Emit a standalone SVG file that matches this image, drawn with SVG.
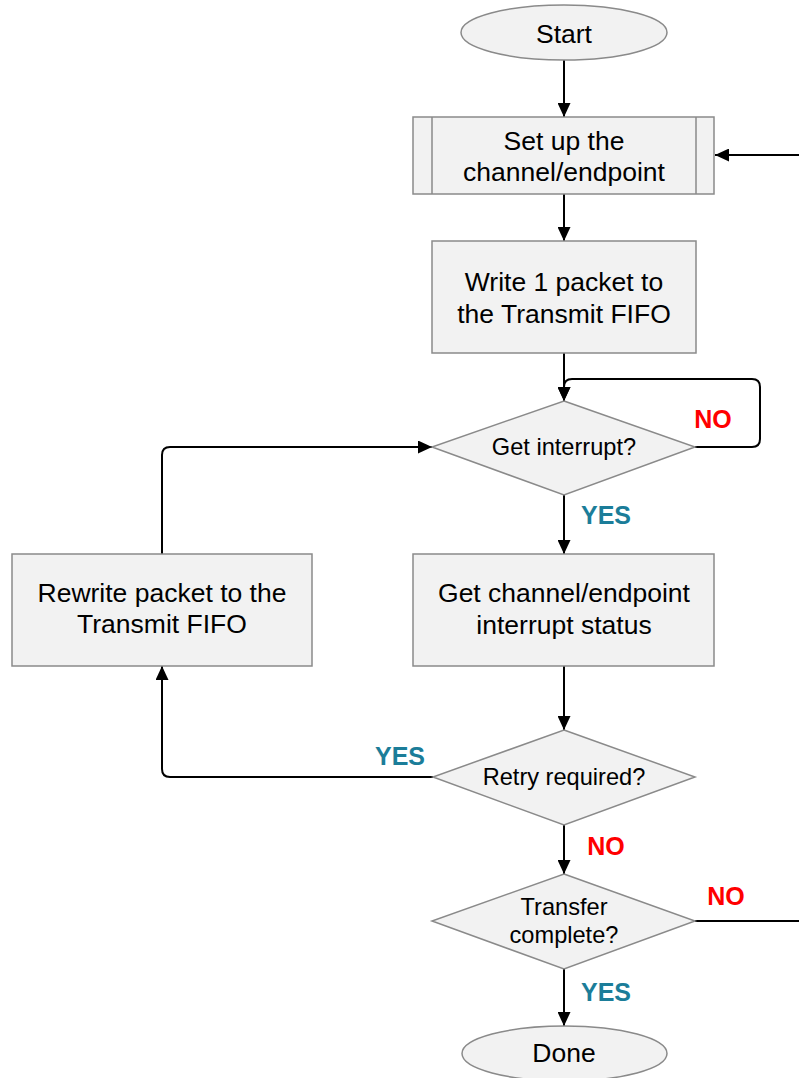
<svg xmlns="http://www.w3.org/2000/svg" width="799" height="1078" viewBox="0 0 799 1078">
<defs>
<marker id="ah" markerUnits="userSpaceOnUse" markerWidth="14" markerHeight="13" refX="14" refY="6.5" orient="auto">
<path d="M0,0 L14,6.5 L0,13 Z" fill="#000"/>
</marker>
<style>
.n{fill:#f2f2f2;stroke:#8a8a8a;stroke-width:1.5}
.t{font-family:"Liberation Sans",Arial,sans-serif;font-size:26.5px;fill:#000;text-anchor:middle}
.d{font-family:"Liberation Sans",Arial,sans-serif;font-size:23.6px;fill:#000;text-anchor:middle}
.c{fill:none;stroke:#000;stroke-width:2;marker-end:url(#ah)}
.l{fill:none;stroke:#000;stroke-width:2}
.yes{font-family:"Liberation Sans",Arial,sans-serif;font-size:25px;font-weight:bold;fill:#1b7d99;text-anchor:middle}
.no{font-family:"Liberation Sans",Arial,sans-serif;font-size:25px;font-weight:bold;fill:#ff0000;text-anchor:middle}
</style>
</defs>
<rect width="799" height="1078" fill="#fff"/>
<g id="connectors">
<path class="c" d="M564,60 V117"/>
<path class="c" d="M564,194 V241"/>
<path class="c" d="M564,353 V401"/>
<path class="c" d="M695,447 H752 Q760,447 760,439 V387 Q760,379 752,379 H572 Q564,379 564,387 V401"/>
<path class="c" d="M564,495 V554"/>
<path class="c" d="M162,554 V455 Q162,447 170,447 H432"/>
<path class="c" d="M564,666 V730"/>
<path class="c" d="M433,777 H170 Q162,777 162,769 V666"/>
<path class="c" d="M564,825 V874"/>
<path class="c" d="M695,921 H812 V155 H715"/>
<path class="c" d="M564,969 V1026"/>
</g>
<g id="start">
<ellipse class="n" cx="564" cy="32.5" rx="103" ry="27.5"/>
<text class="t" x="564" y="43">Start</text>
</g>
<g id="setup">
<rect class="n" x="413" y="117" width="301" height="77"/>
<line class="n" x1="432" y1="117" x2="432" y2="194"/>
<line class="n" x1="696" y1="117" x2="696" y2="194"/>
<text class="t" x="564" y="150">Set up the</text>
<text class="t" x="564" y="181">channel/endpoint</text>
</g>
<g id="write">
<rect class="n" x="432" y="241" width="264" height="112"/>
<text class="t" x="564" y="291">Write 1 packet to</text>
<text class="t" x="564" y="323">the Transmit FIFO</text>
</g>
<g id="getint">
<polygon class="n" points="564,401 695,447 564,495 432,447"/>
<text class="d" x="564" y="455">Get interrupt?</text>
</g>
<g id="getstatus">
<rect class="n" x="413" y="554" width="301" height="112"/>
<text class="t" x="564" y="602">Get channel/endpoint</text>
<text class="t" x="564" y="634">interrupt status</text>
</g>
<g id="rewrite">
<rect class="n" x="12" y="554" width="300" height="112"/>
<text class="t" x="162" y="602">Rewrite packet to the</text>
<text class="t" x="162" y="633">Transmit FIFO</text>
</g>
<g id="retry">
<polygon class="n" points="564,730 695,777 564,825 433,777"/>
<text class="d" x="564" y="785">Retry required?</text>
</g>
<g id="transfer">
<polygon class="n" points="564,874 695,921 564,969 432,921"/>
<text class="d" x="564" y="915">Transfer</text>
<text class="d" x="564" y="943">complete?</text>
</g>
<g id="done">
<ellipse class="n" cx="564.5" cy="1053.5" rx="102.5" ry="27.5"/>
<text class="t" x="564" y="1062">Done</text>
</g>
<g id="labels">
<text class="no" x="713" y="428">NO</text>
<text class="yes" x="606" y="524">YES</text>
<text class="yes" x="400" y="765">YES</text>
<text class="no" x="606" y="855">NO</text>
<text class="no" x="726" y="905">NO</text>
<text class="yes" x="606" y="1001">YES</text>
</g>
</svg>
